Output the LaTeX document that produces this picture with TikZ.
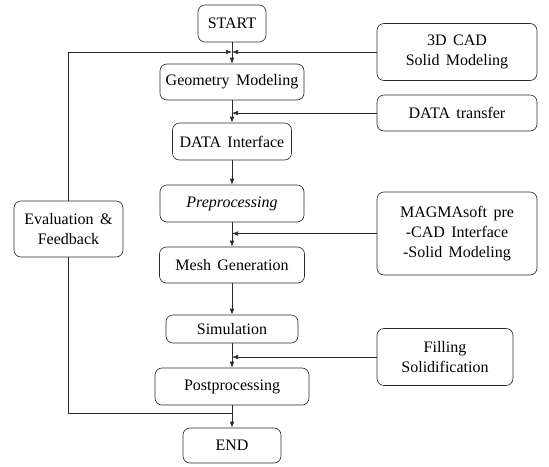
\documentclass[tikz,border=0pt]{standalone}
\usepackage{fontspec}
\setmainfont[WordSpace=1.6]{Liberation Serif}
\usetikzlibrary{arrows.meta,positioning,calc}
\definecolor{FlowLine}{HTML}{2A2A2A}

\begin{document}
\begin{tikzpicture}[x=1pt,y=-1pt,
    every node/.style={font=\fontsize{16}{20}\selectfont},
    stepbox/.style={draw=FlowLine,rounded corners=7pt,line width=0.6pt,align=center,inner sep=2pt},
    flow/.style={-{Latex[length=6pt,width=4.5pt]},line width=0.6pt,draw=FlowLine},
    plain/.style={line width=0.6pt,draw=FlowLine}]
  \useasboundingbox (0,0) rectangle (549,466);
  % main column
  \node[stepbox,minimum width=68pt,minimum height=37pt] (start) at (232,23.5) {START};
  \node[stepbox,minimum width=144pt,minimum height=36pt] (geo) at (232,82) {Geometry Modeling};
  \node[stepbox,minimum width=119pt,minimum height=37pt] (dint) at (232,141.5) {DATA Interface};
  \node[stepbox,minimum width=144pt,minimum height=37pt] (pre) at (232,203.5) {\itshape Preprocessing};
  \node[stepbox,minimum width=145pt,minimum height=36pt] (mesh) at (232,265) {Mesh Generation};
  \node[stepbox,minimum width=132pt,minimum height=28pt] (sim) at (232,329) {Simulation};
  \node[stepbox,minimum width=154pt,minimum height=37pt] (post) at (232,386.5) {Postprocessing};
  \node[stepbox,minimum width=98pt,minimum height=35pt] (end) at (232,445.5) {END};
  % side boxes
  \node[stepbox,minimum width=109pt,minimum height=56pt] (eval) at (68.5,229) {Evaluation \&\\Feedback};
  \node[stepbox,minimum width=160pt,minimum height=57pt] (cad) at (457,52) {3D CAD\\Solid Modeling};
  \node[stepbox,minimum width=160pt,minimum height=36pt] (trans) at (457,113) {DATA transfer};
  \node[stepbox,minimum width=160pt,minimum height=83pt] (magma) at (457,233.5) {MAGMAsoft pre\\-CAD Interface\\-Solid Modeling};
  \node[stepbox,minimum width=136pt,minimum height=57pt] (fill) at (445,357) {Filling\\Solidification};
  % junctions
  \coordinate (j1) at (cad.west -| start);
  \coordinate (j2) at (trans.west -| start);
  \coordinate (j3) at (magma.west -| start);
  \coordinate (j4) at (fill.west -| start);
  \coordinate (j5) at ($(post.south)!0.35!(end.north)$);
  % connectors
  \draw[plain] (start) -- (j1);
  \draw[flow] (j1) -- (geo);
  \draw[flow] (cad) -- (j1);
  \draw[plain] (geo) -- (j2);
  \draw[flow] (j2) -- (dint);
  \draw[flow] (trans) -- (j2);
  \draw[flow] (dint) -- (pre);
  \draw[plain] (pre) -- (j3);
  \draw[flow] (j3) -- (mesh);
  \draw[flow] (magma) -- (j3);
  \draw[flow] (mesh) -- (sim);
  \draw[plain] (sim) -- (j4);
  \draw[flow] (j4) -- (post);
  \draw[flow] (fill) -- (j4);
  \draw[plain] (post) -- (j5);
  \draw[flow] (j5) -- (end);
  \draw[plain] (eval.south) |- (j5);
  \draw[flow] (eval.north) |- (j1);
\end{tikzpicture}
\end{document}
